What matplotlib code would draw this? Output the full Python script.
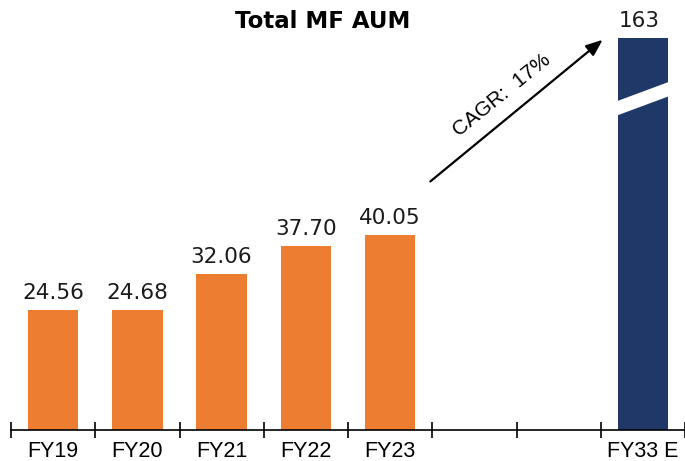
import numpy as np
import matplotlib
matplotlib.use("Agg")
import matplotlib.pyplot as plt
from matplotlib.patches import Polygon
import matplotlib.transforms as mtransforms

# AUM (lakh crore) by fiscal year
years = ["FY19", "FY20", "FY21", "FY22", "FY23", "", "", "FY33 E"]
aum = [24.56, 24.68, 32.06, 37.70, 40.05, None, None, 163]
labels = ["24.56", "24.68", "32.06", "37.70", "40.05", "", "", "163"]
cagr_text = "CAGR:  17%"

orange = "#ED7D31"
navy = "#1F3868"

# broken y scale: linear up to brk, compressed above it
brk = 60.0
k = (80.5 - brk) / (163 - brk)


def fwd(v):
    v = np.asarray(v, dtype=float)
    return np.where(v <= brk, v, brk + (v - brk) * k)


def inv(v):
    v = np.asarray(v, dtype=float)
    return np.where(v <= brk, v, brk + (v - brk) / k)


fig = plt.figure(figsize=(6.85, 4.61), dpi=100)
ax = fig.add_axes([11 / 685, 31 / 461, 674 / 685, 410 / 461])
ax.set_yscale("function", functions=(fwd, inv))
ax.set_ylim(0, inv(84.2))
ax.set_xlim(-0.5, len(years) - 0.5)

x = np.arange(len(years))
for i, v in enumerate(aum):
    if v is None:
        continue
    col = navy if i == len(years) - 1 else orange
    ax.bar(x[i], v, width=0.6, color=col, zorder=2)
    ax.annotate(labels[i], (x[i], v), xytext=(-3 if i == len(years) - 1 else 0, 5),
                textcoords="offset points", ha="center", va="bottom",
                fontsize=15.5, family="DejaVu Sans", color="#1a1a1a")

# white break stripe across the tall bar
tr = mtransforms.blended_transform_factory(ax.transData, ax.transAxes)
xi = x[-1]
stripe = Polygon([(xi - 0.36, 0.763), (xi + 0.36, 0.818),
                  (xi + 0.36, 0.853), (xi - 0.36, 0.798)],
                 closed=True, transform=tr, facecolor="white",
                 edgecolor="none", zorder=3)
ax.add_patch(stripe)

# CAGR arrow
ax.annotate("", xy=(0.881, 0.956), xytext=(0.619, 0.602),
            xycoords="axes fraction", textcoords="axes fraction",
            arrowprops=dict(arrowstyle="-|>,head_length=1.0,head_width=0.4",
                            color="black", lw=1.6))
ax.text(0.728, 0.817, cagr_text, transform=ax.transAxes, rotation=39,
        rotation_mode="anchor", ha="center", va="center", fontsize=15,
        family="Liberation Sans")

# axis styling
for s in ["top", "right", "left"]:
    ax.spines[s].set_visible(False)
ax.spines["bottom"].set_linewidth(1.2)
ax.set_yticks([])
ax.set_xticks(x)
ax.set_xticklabels(years, fontsize=15.5, family="Liberation Sans")
ax.tick_params(axis="x", which="major", length=0, pad=8)
ax.set_xticks(np.arange(-0.5, len(years)), minor=True)
ax.tick_params(axis="x", which="minor", direction="inout", length=12, width=1.2)

fig.text(323 / 685, 1 - 22 / 461, "Total MF AUM", ha="center", va="center",
         fontsize=16.5, fontweight="bold", family="DejaVu Sans")

fig.savefig("out.png", dpi=100)
